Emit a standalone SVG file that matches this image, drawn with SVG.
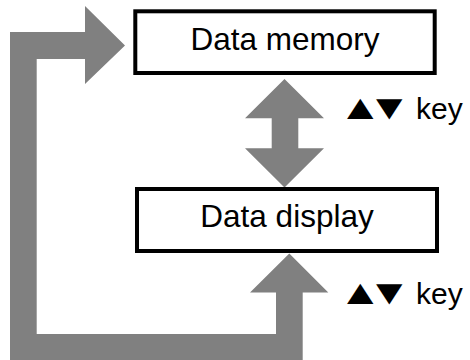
<svg xmlns="http://www.w3.org/2000/svg" width="470" height="360" viewBox="0 0 470 360">
<style>
.arrow{fill:#808080;stroke:none}
.box{fill:#fff;stroke:#000;stroke-width:4}
.lbl{font-family:"Liberation Sans",Arial,sans-serif;font-size:31.5px;fill:#000;text-anchor:middle}
.key{font-family:"Liberation Sans",Arial,sans-serif;font-size:30px;fill:#000}
.tri{letter-spacing:-10.3px}
</style>
<rect width="470" height="360" fill="#fff"/>
<g id="connectors">
<path id="return-arrow" class="arrow" d="M10,361 L10,32 L85,32 L85,6 L125,45.5 L85,84 L85,59 L36.7,59 L36.7,334 L276,334 L276,292.5 L250,292.5 L289.3,253.5 L328.3,292.5 L302.7,292.5 L302.7,361 Z"/>
<path id="double-arrow" class="arrow" d="M284.5,79 L324,118.3 L298.3,118.3 L298.3,148.3 L324,148.3 L284.5,187.5 L245,148.3 L271.7,148.3 L271.7,118.3 L245,118.3 Z"/>
<g id="key-label-1">
<text class="key tri" transform="translate(338,119.3) scale(1.5,1.15)">▲▼</text>
<text class="key" x="416" y="119.3">key</text>
</g>
<g id="key-label-2">
<text class="key tri" transform="translate(338,304.3) scale(1.5,1.15)">▲▼</text>
<text class="key" x="416" y="304.3">key</text>
</g>
</g>
<g id="data-memory">
<rect class="box" x="135.3" y="11.3" width="299.4" height="61.7"/>
<text class="lbl" x="285" y="49.5">Data memory</text>
</g>
<g id="data-display">
<rect class="box" x="137" y="189" width="300" height="62"/>
<text class="lbl" x="287" y="227">Data display</text>
</g>
</svg>
